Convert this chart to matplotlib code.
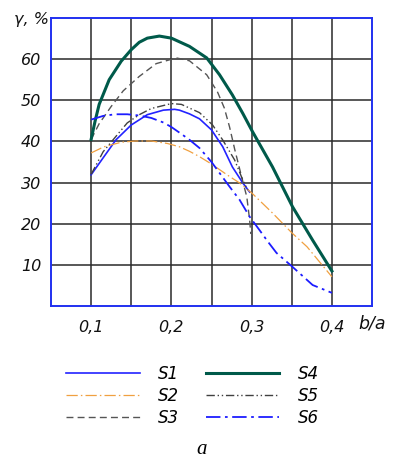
import matplotlib
matplotlib.use("Agg")
import matplotlib.pyplot as plt

# curves (b/a, gamma %)
s1_x = [0.1, 0.116, 0.131, 0.15, 0.17, 0.19, 0.204, 0.21, 0.2225, 0.235, 0.25, 0.264, 0.276, 0.289, 0.2975]
s1_y = [31.9, 36.3, 40.4, 44.0, 46.5, 47.6, 47.8, 47.6, 46.7, 45.5, 42.8, 38.7, 33.8, 29.9, 27.7]

s2_x = [0.1, 0.116, 0.1375, 0.155, 0.175, 0.195, 0.21, 0.2225, 0.235, 0.25, 0.27, 0.285, 0.3, 0.326, 0.35, 0.369, 0.4]
s2_y = [37.2, 38.7, 39.8, 40.1, 40.1, 39.5, 38.7, 37.6, 36.3, 34.5, 31.8, 29.9, 27.5, 22.6, 17.8, 14.4, 7.1]

s3_x = [0.1, 0.11, 0.125, 0.14, 0.16, 0.181, 0.206, 0.2225, 0.244, 0.2575, 0.266, 0.2725, 0.279, 0.2875, 0.294, 0.2975, 0.299]
s3_y = [40.5, 44.3, 48.5, 52.3, 55.8, 58.9, 60.3, 59.6, 56.2, 52.0, 48.1, 43.5, 38.0, 31.4, 26.5, 20.9, 17.5]

s4_x = [0.1, 0.105, 0.11, 0.1225, 0.1375, 0.15, 0.16, 0.17, 0.185, 0.2, 0.2225, 0.244, 0.26, 0.276, 0.289, 0.301, 0.326, 0.351, 0.376, 0.4]
s4_y = [40.5, 45.0, 49.0, 55.0, 59.5, 62.3, 64.1, 65.1, 65.6, 65.1, 63.1, 60.3, 56.2, 51.3, 46.8, 42.4, 33.8, 24.1, 16.0, 8.5]

s5_x = [0.1, 0.115, 0.1325, 0.145, 0.16, 0.175, 0.2, 0.2125, 0.235, 0.2513, 0.2638, 0.2788, 0.2888, 0.295]
s5_y = [32.0, 37.5, 41.6, 44.5, 46.5, 48.0, 49.2, 49.0, 47.0, 44.0, 40.4, 35.5, 30.7, 28.2]

s6_x = [0.1, 0.115, 0.13, 0.145, 0.16, 0.175, 0.19, 0.2, 0.2125, 0.2225, 0.235, 0.25, 0.2725, 0.285, 0.2975, 0.31, 0.32, 0.331, 0.351, 0.376, 0.4]
s6_y = [45.3, 46.2, 46.6, 46.6, 46.3, 45.7, 44.6, 43.5, 41.8, 40.4, 38.4, 35.0, 29.0, 25.8, 21.7, 18.4, 15.7, 12.9, 9.5, 5.1, 3.2]

x_ticks = [0.1, 0.2, 0.3, 0.4]
x_tick_labels = ["0,1", "0,2", "0,3", "0,4"]
y_ticks = [10, 20, 30, 40, 50, 60]

fig = plt.figure(figsize=(3.93, 4.61), dpi=100)
ax = fig.add_axes([0.1298, 0.3362, 0.8168, 0.6248])

ax.set_xlim(0.05, 0.45)
ax.set_ylim(0, 70)
for gx in [0.1, 0.15, 0.2, 0.25, 0.3, 0.35, 0.4]:
    ax.axvline(gx, color="#2a2a2a", lw=1.1, zorder=1)
for gy in [10, 20, 30, 40, 50, 60]:
    ax.axhline(gy, color="#2a2a2a", lw=1.1, zorder=1)

ax.plot(s1_x, s1_y, color="#2323ff", lw=1.2, label="S1", zorder=3)
ax.plot(s2_x, s2_y, color="#f0a040", lw=0.9, dashes=[9, 2.5, 1.2, 2.5], label="S2", zorder=3)
ax.plot(s3_x, s3_y, color="#555555", lw=1.0, dashes=[5, 3], label="S3", zorder=3)
ax.plot(s4_x, s4_y, color="#005a4a", lw=2.2, label="S4", zorder=3)
ax.plot(s5_x, s5_y, color="#404040", lw=1.0, dashes=[6, 2, 1, 2, 1, 2], label="S5", zorder=3)
ax.plot(s6_x, s6_y, color="#1c1cff", lw=1.3, dashes=[8, 2.5, 1.5, 2.5], label="S6", zorder=3)

for sp in ax.spines.values():
    sp.set_color("#2030f0")
    sp.set_linewidth(1.4)

tick_font = dict(family="DejaVu Sans", style="italic", size=11.5, color="#111111")
ax.set_xticks(x_ticks)
ax.set_xticklabels(x_tick_labels, **tick_font)
ax.set_yticks(y_ticks)
ax.set_yticklabels([str(v) for v in y_ticks], **tick_font)
ax.tick_params(axis="both", length=0)
ax.tick_params(axis="x", pad=10)
ax.tick_params(axis="y", pad=7)

fig.text(0.035, 0.958, "γ, %", ha="left", va="center", **tick_font)
fig.text(0.912, 0.298, "b/a", ha="left", va="center", family="DejaVu Sans",
         style="italic", size=12.5, color="#111111")

leg = fig.legend(loc="center", bbox_to_anchor=(0.49, 0.141), ncol=2, frameon=False,
                 handlelength=4.4, handletextpad=1.1, columnspacing=1.6, labelspacing=0.25,
                 prop=dict(family="DejaVu Sans", style="italic", size=12))

fig.text(0.514, 0.024, "a", ha="center", va="center", family="Liberation Serif", style="italic", size=15)

fig.savefig("out.png", dpi=100)
